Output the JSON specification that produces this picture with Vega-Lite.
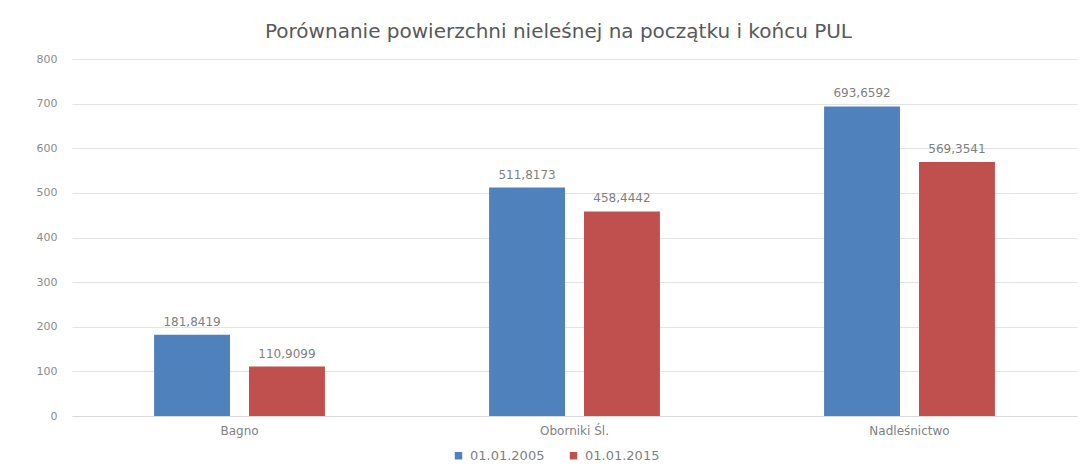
{
  "$schema": "https://vega.github.io/schema/vega-lite/v6.json",
  "autosize": {"type": "none"},
  "padding": {"left": 72, "top": 59, "right": 14, "bottom": 51},
  "width": 1005,
  "height": 357,
  "background": "white",
  "config": {
    "locale": {"number": {"decimal": ",", "thousands": " ", "grouping": [3], "currency": ["", " zł"]}},
    "font": "DejaVu Sans",
    "view": {"stroke": null}
  },
  "title": {
    "text": "Porównanie powierzchni nieleśnej na początku i końcu PUL",
    "fontSize": 20,
    "font": "DejaVu Sans",
    "fontWeight": "normal",
    "color": "#595959",
    "anchor": "middle",
    "dx": -16,
    "offset": 11
  },
  "data": {
    "values": [
      {"kategoria": "Bagno", "data": "01.01.2005", "wartosc": 181.8419},
      {"kategoria": "Bagno", "data": "01.01.2015", "wartosc": 110.9099},
      {"kategoria": "Oborniki Śl.", "data": "01.01.2005", "wartosc": 511.8173},
      {"kategoria": "Oborniki Śl.", "data": "01.01.2015", "wartosc": 458.4442},
      {"kategoria": "Nadleśnictwo", "data": "01.01.2005", "wartosc": 693.6592},
      {"kategoria": "Nadleśnictwo", "data": "01.01.2015", "wartosc": 569.3541}
    ]
  },
  "encoding": {
    "x": {
      "field": "kategoria",
      "type": "nominal",
      "sort": null,
      "title": null,
      "scale": {"paddingInner": 0.49, "paddingOuter": 0.245},
      "axis": {
        "labelAngle": 0,
        "ticks": false,
        "domainColor": "#d9d9d9",
        "labelColor": "#7f7f7f",
        "labelFontSize": 12,
        "labelPadding": 9
      }
    },
    "xOffset": {
      "field": "data",
      "type": "nominal",
      "scale": {"paddingInner": 0.2, "paddingOuter": 0}
    },
    "y": {
      "field": "wartosc",
      "type": "quantitative",
      "title": null,
      "scale": {"domain": [0, 800], "nice": false},
      "axis": {
        "values": [0, 100, 200, 300, 400, 500, 600, 700, 800],
        "domain": false,
        "ticks": false,
        "gridColor": "#e3e3e3",
        "labelColor": "#8c8c8c",
        "labelFontSize": 11,
        "labelPadding": 15,
        "format": "d"
      }
    }
  },
  "layer": [
    {
      "mark": {"type": "bar"},
      "encoding": {
        "color": {
          "field": "data",
          "type": "nominal",
          "title": null,
          "scale": {"domain": ["01.01.2005", "01.01.2015"], "range": ["#4f81bd", "#c0504d"]},
          "legend": {
            "orient": "none",
            "legendX": 380,
            "legendY": 390,
            "direction": "horizontal",
            "symbolType": "square",
            "symbolSize": 56,
            "labelFontSize": 13,
            "labelColor": "#7f7f7f",
            "columnPadding": 22,
            "labelOffset": 5,
            "symbolStrokeWidth": 0
          }
        }
      }
    },
    {
      "mark": {"type": "text", "baseline": "bottom", "dy": -6, "fontSize": 12, "color": "#7f7f7f"},
      "encoding": {
        "text": {"field": "wartosc", "type": "quantitative", "format": ".4f"}
      }
    }
  ]
}
